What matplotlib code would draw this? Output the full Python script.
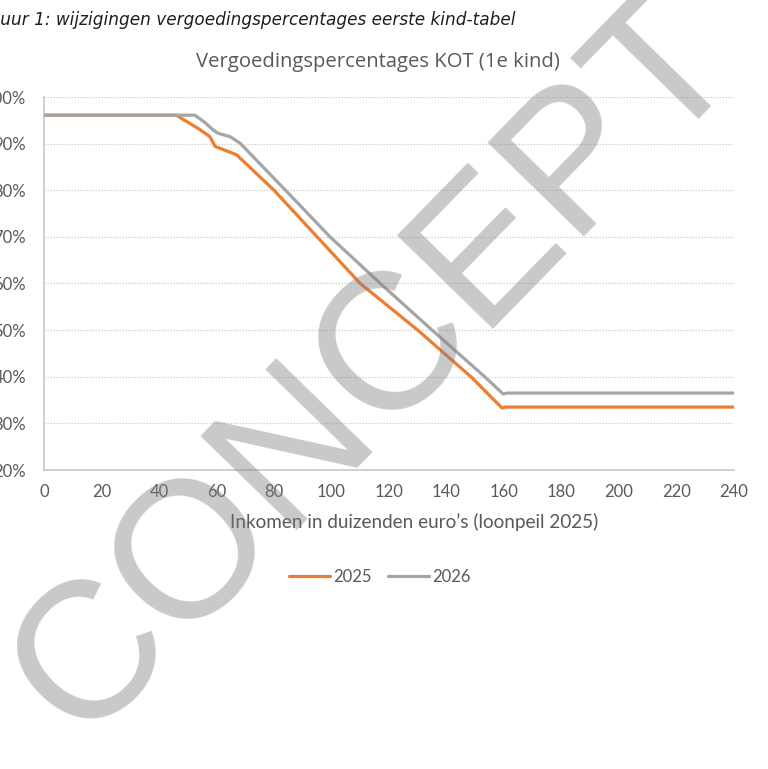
import matplotlib
matplotlib.use("Agg")
import matplotlib.pyplot as plt

# ---- data ----
income_2025 = [0, 46, 50, 54, 57.7, 59.5, 62, 67, 80, 95, 110, 130, 148.5, 159.3, 160.5, 240]
pct_2025 = [96.1, 96.1, 94.6, 93.1, 91.5, 89.4, 88.8, 87.6, 80, 70, 60, 50, 40, 33.3, 33.5, 33.5]

income_2026 = [0, 52.5, 56, 58.9, 60.6, 64.7, 68.2, 84, 99.5, 117, 135, 153.3, 159.7, 161, 240]
pct_2026 = [96.1, 96.1, 94.5, 92.9, 92.2, 91.5, 90.1, 80, 70, 60, 50, 40, 36.3, 36.5, 36.5]

x_ticks = list(range(0, 241, 20))
y_ticks = list(range(20, 101, 10))
series_labels = ["2025", "2026"]

caption = "Figuur 1: wijzigingen vergoedingspercentages eerste kind-tabel"
title = "Vergoedingspercentages KOT (1e kind)"
xlabel = "Inkomen in duizenden euro\u2019s (loonpeil 2025)"
watermark = "CONCEPT"

W, H = 768, 769
fig = plt.figure(figsize=(W / 100, H / 100), dpi=100)

def fx(px):
    return px / W

def fy(py):
    return 1 - py / H

ax = fig.add_axes([fx(44), fy(470), fx(734) - fx(44), fy(97) - fy(470)])

orange = "#ED7D31"
grey = "#A5A5A5"
txt = "#595959"
tick_font = "Lato"

ax.plot(income_2025, pct_2025, color=orange, lw=2.3, solid_capstyle="round",
        solid_joinstyle="round", label=series_labels[0], zorder=3)
ax.plot(income_2026, pct_2026, color=grey, lw=2.3, solid_capstyle="round",
        solid_joinstyle="round", label=series_labels[1], zorder=3)

ax.set_xlim(0, 240)
ax.set_ylim(20, 100)
ax.set_xticks(x_ticks)
ax.set_yticks(y_ticks)
ax.set_xticklabels([str(v) for v in x_ticks], family=tick_font, fontsize=12, color=txt)
ax.set_yticklabels([f"{v}%" for v in y_ticks], family=tick_font, fontsize=12, color=txt)
ax.tick_params(axis="both", length=0)
ax.tick_params(axis="y", pad=13)
ax.tick_params(axis="x", pad=10)

ax.grid(axis="y", color="#D0D0D0", lw=0.9, ls=(0, (1.2, 1.2)))
ax.set_axisbelow(True)
for s in ["top", "right"]:
    ax.spines[s].set_visible(False)
for s in ["left", "bottom"]:
    ax.spines[s].set_color("#C8C8C8")
    ax.spines[s].set_linewidth(1.2)

# x label centred as in the reference
fig.text(fx(414), fy(522), xlabel, ha="center", va="center",
         family=tick_font, fontsize=13.6, color=txt)

# title
fig.text(fx(378), fy(67), title, ha="center", va="baseline",
         family="Open Sans", fontsize=14.6, color=txt)

# caption (clipped at left edge like the reference)
fig.text(fx(-25), fy(25), caption, ha="left", va="baseline",
         family="DejaVu Sans", style="italic", fontsize=12.2, color="#1E1E1E")

# legend
leg = fig.legend(loc="center", bbox_to_anchor=(fx(380), fy(577)), ncol=2, frameon=False,
                 prop={"family": tick_font, "size": 12}, handlelength=2.45,
                 handletextpad=0.2, columnspacing=1.0)
for t in leg.get_texts():
    t.set_color(txt)

# watermark
fig.text(fx(376), fy(367), watermark, rotation=45.7, rotation_mode="anchor",
         ha="center", va="center", family="Liberation Sans", fontsize=140,
         color="#7F7F7F", alpha=0.42, zorder=10)

fig.savefig("out.png", dpi=100, facecolor="white")
